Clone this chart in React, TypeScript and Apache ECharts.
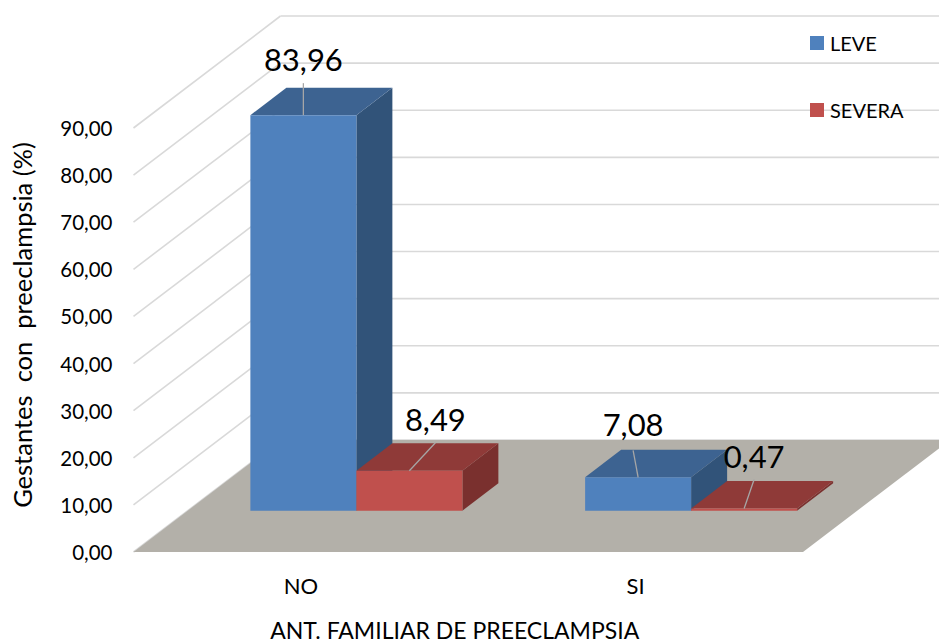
import React, { useEffect, useRef } from "react";
import * as echarts from "echarts";

const CATEGORIES = ["NO", "SI"];
const LEVE = [83.96, 7.08];
const SEVERA = [8.49, 0.47];
const TICKS = [0, 10, 20, 30, 40, 50, 60, 70, 80, 90];

const FONT = "Lato";
const DEPTH_X = 147; // wall depth
const DEPTH_Y = 112;
const BAR_DX = 36;
const BAR_DY = 27.5;
const FLOOR_RISE = 41.3;
const BAR_W = 106;
const PAIR_SHIFT = 55.5;

// leader-line end and label centre, relative to the centre of each bar's top front edge
const LABEL_LEVE = [
  { lx: 0, ly: -32, tx: 0, ty: -56 },
  { lx: -5, ly: -27, tx: -5, ty: -53 },
];
const LABEL_SEVERA = [
  { lx: 26, ly: -28, tx: 26, ty: -52 },
  { lx: 10, ly: -29, tx: 10, ty: -52 },
];

const fmt = (v: number) => v.toFixed(2).replace(".", ",");

function wallItem(params: any, api: any) {
  const t = api.value(1);
  const y = api.coord([0, t])[1];
  const cs = params.coordSys;
  const left = cs.x;
  const right = cs.x + cs.width;
  const gridStyle = { stroke: "#D9D9D9", lineWidth: 1.6, fill: "none" };
  const children: any[] = [
    { type: "line", shape: { x1: left, y1: y, x2: left + DEPTH_X, y2: y - DEPTH_Y }, style: gridStyle },
    { type: "line", shape: { x1: left + DEPTH_X, y1: y - DEPTH_Y, x2: right + DEPTH_X, y2: y - DEPTH_Y }, style: gridStyle },
  ];
  if (t === 0) {
    children.push({
      type: "polygon",
      shape: {
        points: [
          [left, y],
          [right, y],
          [right + DEPTH_X, y - DEPTH_Y],
          [left + DEPTH_X, y - DEPTH_Y],
        ],
      },
      style: { fill: "#B3B0A9" },
    });
  }
  return { type: "group", children };
}

function barRenderer(
  colors: { front: string; top: string; side: string },
  offset: number,
  labels: { lx: number; ly: number; tx: number; ty: number }[]
) {
  return (params: any, api: any) => {
    const i = api.value(0);
    const v = api.value(1);
    const c = api.coord([i, 0]);
    const x0 = c[0] + PAIR_SHIFT + offset;
    const x1 = x0 + BAR_W;
    const yb = c[1] - FLOOR_RISE;
    const yt = api.coord([i, v])[1] - FLOOR_RISE;
    const cx = (x0 + x1) / 2;
    const lab = labels[params.dataIndex];
    return {
      type: "group",
      children: [
        { type: "polygon", shape: { points: [[x1, yb], [x1 + BAR_DX, yb - BAR_DY], [x1 + BAR_DX, yt - BAR_DY], [x1, yt]] }, style: { fill: colors.side } },
        { type: "polygon", shape: { points: [[x0, yt], [x1, yt], [x1 + BAR_DX, yt - BAR_DY], [x0 + BAR_DX, yt - BAR_DY]] }, style: { fill: colors.top } },
        { type: "rect", shape: { x: x0, y: yt, width: BAR_W, height: yb - yt }, style: { fill: colors.front } },
        { type: "line", shape: { x1: cx, y1: yt, x2: cx + lab.lx, y2: yt + lab.ly }, style: { stroke: "#A6A6A6", lineWidth: 1.3, fill: "none" } },
        {
          type: "text",
          style: {
            text: fmt(v),
            x: cx + lab.tx,
            y: yt + lab.ty,
            align: "center",
            verticalAlign: "middle",
            fontSize: 31,
            fontFamily: FONT,
            fill: "#000000",
          },
        },
      ],
    };
  };
}

export default function App() {
  const ref = useRef<HTMLDivElement>(null);
  useEffect(() => {
    const chart = echarts.init(ref.current!, undefined, { renderer: "svg" });
    chart.setOption({
      animation: false,
      backgroundColor: "#FFFFFF",
      grid: { left: 133.5, right: 136, top: 128, bottom: 92, outerBoundsMode: "none" },
      legend: {
        data: ["LEVE", "SEVERA"],
        orient: "vertical",
        left: 805,
        top: 28,
        itemWidth: 14,
        itemHeight: 14,
        itemGap: 47,
        icon: "rect",
        textStyle: { fontSize: 20, fontFamily: FONT, color: "#000000", padding: [0, 0, 0, 1] },
      },
      xAxis: {
        type: "category",
        data: CATEGORIES,
        axisLine: { show: false },
        axisTick: { show: false },
        axisLabel: { margin: 22, fontSize: 22, fontFamily: FONT, color: "#000000" },
        name: "ANT. FAMILIAR DE PREECLAMPSIA",
        nameLocation: "middle",
        nameGap: 66,
        nameTextStyle: { fontSize: 23, fontFamily: FONT, color: "#000000", padding: [0, 27, 0, 0] },
      },
      yAxis: {
        type: "value",
        min: 0,
        max: 90,
        interval: 10,
        splitLine: { show: false },
        axisLine: { show: false },
        axisTick: { show: false },
        axisLabel: {
          margin: 21,
          fontSize: 20.5,
          fontFamily: FONT,
          color: "#000000",
          formatter: (v: number) => fmt(v),
        },
        name: "Gestantes  con  preeclampsia (%)",
        nameLocation: "middle",
        nameGap: 99,
        nameTextStyle: { fontSize: 25.5, fontFamily: FONT, color: "#000000", padding: [0, 0, 0, 30] },
      },
      series: [
        {
          type: "custom",
          name: "walls",
          z: 1,
          data: TICKS.map((t) => [0, t]),
          encode: { x: 0, y: 1 },
          renderItem: wallItem,
          silent: true,
        },
        {
          type: "custom",
          name: "LEVE",
          z: 2,
          itemStyle: { color: "#4F81BD" },
          data: LEVE.map((v, i) => [i, v]),
          encode: { x: 0, y: 1 },
          renderItem: barRenderer({ front: "#4F81BD", top: "#3D6391", side: "#315379" }, -BAR_W, LABEL_LEVE),
        },
        {
          type: "custom",
          name: "SEVERA",
          z: 3,
          itemStyle: { color: "#C0504D" },
          data: SEVERA.map((v, i) => [i, v]),
          encode: { x: 0, y: 1 },
          renderItem: barRenderer({ front: "#C0504D", top: "#8F3A38", side: "#7A302E" }, 0, LABEL_SEVERA),
        },
      ],
    });
    return () => chart.dispose();
  }, []);
  return <div ref={ref} style={{ position: "fixed", left: 0, top: 0, width: 939, height: 644 }} />;
}
